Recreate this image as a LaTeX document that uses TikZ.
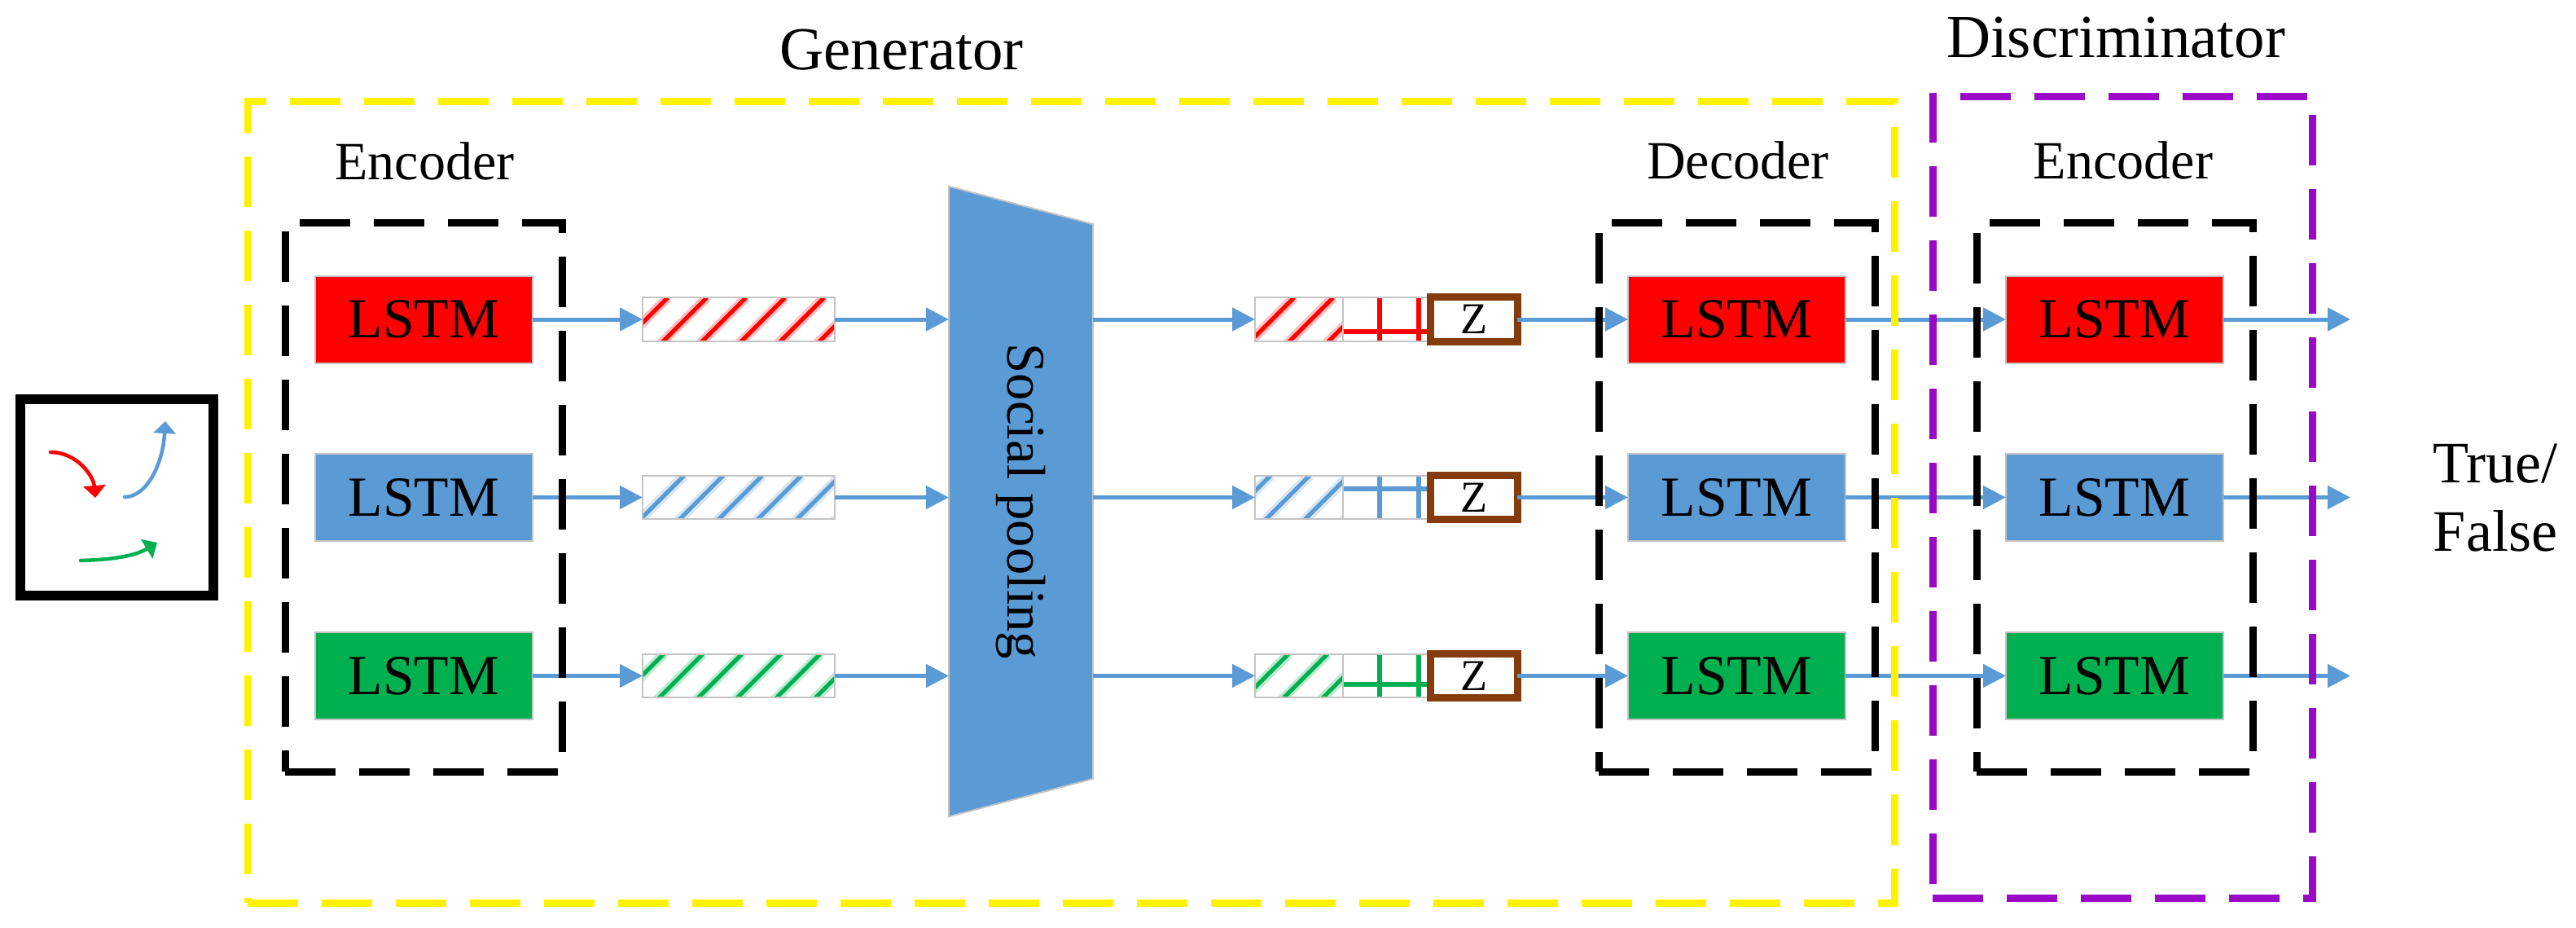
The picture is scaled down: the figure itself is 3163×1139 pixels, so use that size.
\documentclass[tikz,border=0pt]{standalone}
\usepackage{fontspec}
\setmainfont{Liberation Serif}
\usetikzlibrary{arrows.meta,shapes.geometric}
\definecolor{lblue}{HTML}{5B9BD5}
\definecolor{lgreen}{HTML}{00B050}
\definecolor{lbrown}{HTML}{843C0C}
\definecolor{lpurple}{HTML}{9A09C6}
\definecolor{lgray}{HTML}{C4C4C4}
\tikzset{every node/.style={align=center,inner sep=0pt,outer sep=0pt}}
\tikzset{t/.style={anchor=base,font=\fontsize{18.8}{22}\selectfont}}
\tikzset{tb/.style={anchor=base,font=\fontsize{21.3}{25}\selectfont}}
\tikzset{lstm/.style={rectangle,draw=lgray,line width=0.2mm,minimum width=26.7mm,minimum height=10.7mm,font=\fontsize{19.8}{24}\selectfont}}
\tikzset{r/.style={fill=red}}
\tikzset{u/.style={fill=lblue}}
\tikzset{g/.style={fill=lgreen}}
\tikzset{bar/.style={rectangle,draw=lgray,line width=0.2mm,minimum height=5.35mm}}
\tikzset{zbox/.style={rectangle,draw=lbrown,fill=white,line width=0.9mm,minimum width=10.65mm,minimum height=5.45mm,font=\fontsize{15.4}{18}\selectfont}}
\tikzset{conn/.style={draw=lblue,line width=0.5mm,-{Triangle[length=2.8mm,width=2.8mm]}}}
\tikzset{icon/.style={line width=0.45mm,line cap=round,-{Triangle[length=1.5mm,width=2.7mm]}}}
\tikzset{dbox/.style={line width=0.9mm,dash pattern=on 6.2mm off 2.9mm}}
% stripes: colour, offset of the first one
\tikzset{hatch/.style 2 args={path picture={
  \foreach \k in {0,...,6} {
    \draw[#1!25,line width=1.2mm] ([xshift=\k*4.8mm+#2]path picture bounding box.north west) -- ++(-7mm,-7mm);
    \draw[#1,line width=0.5mm] ([xshift=\k*4.8mm+#2]path picture bounding box.north west) -- ++(-7mm,-7mm);
  }}}}
% cells: colour, height of the long line
\tikzset{cells/.style 2 args={path picture={
  \draw[#1,line width=0.6mm] ([yshift=-#2]path picture bounding box.north west) -- ++(11mm,0);
  \draw[#1,line width=0.6mm] ([xshift=4.5mm]path picture bounding box.north west) -- ([xshift=4.5mm]path picture bounding box.south west);
  \draw[#1,line width=0.6mm] ([xshift=9.3mm]path picture bounding box.north west) -- ([xshift=9.3mm]path picture bounding box.south west);
  }}}

\begin{document}
\begin{tikzpicture}[x=0.1mm,y=-0.1mm]
\useasboundingbox (0,0) rectangle (3163,1139);

\node[tb](gen) at (1107,85) {Generator};
\node[tb](dis) at (2598,71) {Discriminator};
\node[t](enc) at (521.5,220) {Encoder};
\node[t](dec) at (2134,219) {Decoder};
\node[t](den) at (2607,219) {Encoder};
\node[font=\fontsize{20.5}{23.9}\selectfont](tf) at (3064,611) {True/\\False};

% input scene
\node[draw,line width=1.16mm,minimum width=23.7mm,minimum height=24.1mm](scene) at (143.5,610.5) {};
\draw[icon,red] (62,555) .. controls (95,555) and (115,585) .. (117,611);
\draw[icon,lblue] (153,610) .. controls (180,610) and (200,570) .. (203,517);
\draw[icon,lgreen] (99,688) .. controls (135,687) and (165,683) .. (193,666);

\node[lstm,r](e1) at (520.5,392) {LSTM};
\node[lstm,u](e2) at (520.5,610.5) {LSTM};
\node[lstm,g](e3) at (520.5,829.5) {LSTM};

\node[bar,minimum width=23.6mm,hatch={red}{3.1mm}](h1) at (907,392) {};
\node[bar,minimum width=23.6mm,hatch={lblue}{5.1mm}](h2) at (907,610.5) {};
\node[bar,minimum width=23.6mm,hatch={lgreen}{2.6mm}](h3) at (907,829.5) {};

\node[trapezium,rotate=-90,trapezium stretches=true,trapezium left angle=66.5,trapezium right angle=66.5,
  minimum width=77.5mm,minimum height=17.7mm,draw=lgray,fill=lblue,line width=0.2mm,
  font=\fontsize{19}{22}\selectfont](pool) at (1253.5,615.5) {Social pooling};

\node[bar,minimum width=10.8mm,hatch={red}{4.8mm}](s1) at (1595,392) {};
\node[bar,minimum width=10.8mm,hatch={lblue}{1.9mm}](s2) at (1595,610.5) {};
\node[bar,minimum width=10.8mm,hatch={lgreen}{4.1mm}](s3) at (1595,829.5) {};

\node[bar,minimum width=10.8mm,cells={red}{4.17mm}](c1) at (1703,392) {};
\node[bar,minimum width=10.8mm,cells={lblue}{1.66mm}](c2) at (1703,610.5) {};
\node[bar,minimum width=10.8mm,cells={lgreen}{3.7mm}](c3) at (1703,829.5) {};

\node[zbox](z1) at (1810,392) {Z};
\node[zbox](z2) at (1810,610.5) {Z};
\node[zbox](z3) at (1810,829.5) {Z};

\node[lstm,r](d1) at (2132.5,392) {LSTM};
\node[lstm,u](d2) at (2132.5,610.5) {LSTM};
\node[lstm,g](d3) at (2132.5,829.5) {LSTM};

\node[lstm,r](f1) at (2596.5,392) {LSTM};
\node[lstm,u](f2) at (2596.5,610.5) {LSTM};
\node[lstm,g](f3) at (2596.5,829.5) {LSTM};

\coordinate (o1) at (2886,392);
\coordinate (o2) at (2886,610.5);
\coordinate (o3) at (2886,829.5);

\foreach \s/\t in {e1/h1,e2/h2,e3/h3,z1/d1,z2/d2,z3/d3,d1/f1,d2/f2,d3/f3,f1/o1,f2/o2,f3/o3}
  \draw[conn] (\s) -- (\t);
\foreach \s/\t in {h1/s1,h2/s2,h3/s3} {
  \draw[conn] (\s.east) -- (\s.east -| pool.south);
  \draw[conn] (\t.west -| pool.north) -- (\t.west);
}

% dashed frames, all start at the lower left corner
\foreach \l/\n in {350/690,1963/2302,2427/2766}
  \draw[dbox] (\l,947) -- (\n,947) -- (\n,273) -- (\l,273) -- cycle;
\draw[dbox,yellow] (304,1108) -- (2326,1108) -- (2326,124) -- (304,124) -- cycle;
\draw[dbox,lpurple] (2373,1102) -- (2839,1102) -- (2839,118) -- (2373,118) -- cycle;
\end{tikzpicture}
\end{document}
